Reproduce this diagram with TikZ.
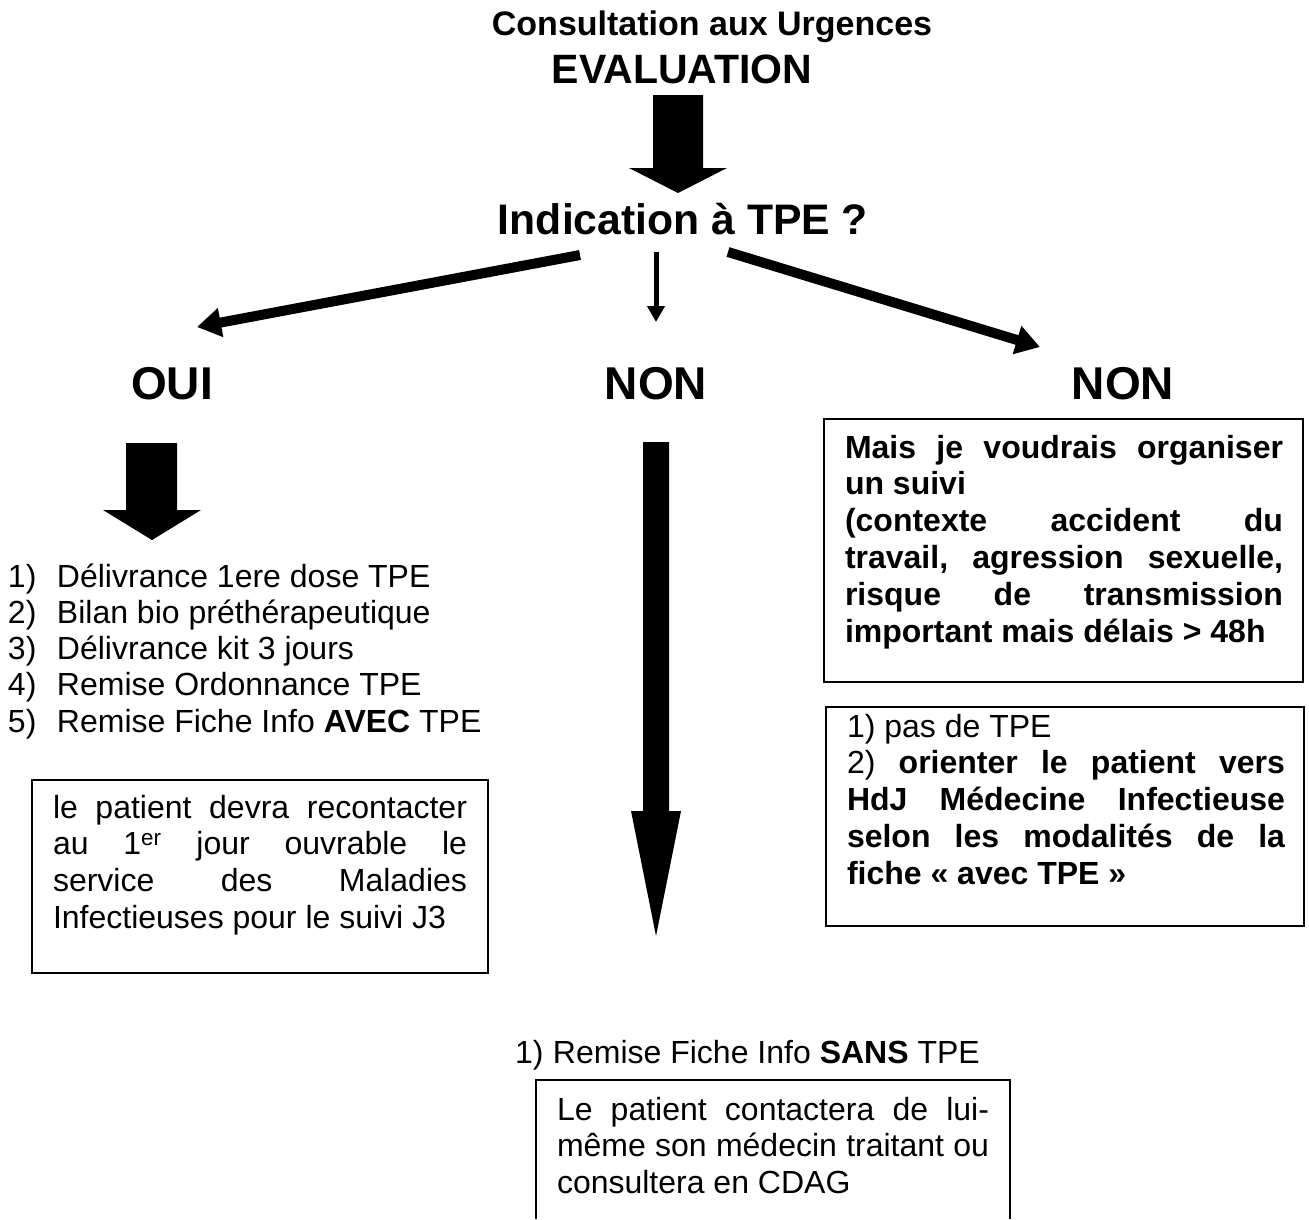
\documentclass[tikz,border=0pt]{standalone}
\usepackage{fontspec}
\setmainfont{Liberation Sans}
\usetikzlibrary{arrows.meta}
\newlength\linew
\newcommand\jrow[1]{\hbox to \linew{#1}}
\newcommand\lrow[1]{\hbox to \linew{#1\hfil}}
\newcommand\numrow[2]{\hbox{\hbox to 49pt{#1\hfil}#2}}
\begin{document}
\begin{tikzpicture}[x=1pt,y=-1pt,
  every node/.style={inner sep=0pt,outer sep=0pt},
  body/.style={font=\fontsize{32}{36.8}\selectfont,anchor=base west},
  big/.style={font=\bfseries\fontsize{46}{52}\selectfont,anchor=base},
  boxline/.style={line width=2pt},
  thinarrow/.style={line width=10pt,-{Triangle[length=24pt,width=28pt]}},
  smallarrow/.style={line width=5pt,-{Triangle[length=16pt,width=17pt]}},
  block/.style={fill=black}]
\useasboundingbox (0,0) rectangle (1309,1219);
% titles
\node[font=\bfseries\fontsize{34}{40}\selectfont,anchor=base] (t1) at (712,35) {Consultation aux Urgences};
\node[font=\bfseries\fontsize{41}{48}\selectfont,anchor=base] (t2) at (682,83) {EVALUATION};
% top block arrow
\fill[block] (653,95) -- (703,95) -- (703,168) -- (727,168) -- (678,193) -- (629,168) -- (653,168) -- cycle;
\node[font=\bfseries\fontsize{42.7}{48}\selectfont,anchor=base] (ind) at (683,234) {Indication à TPE ?};
% branch arrows
\coordinate (la0) at (580,255); \coordinate (la1) at (197,327);
\coordinate (ma0) at (656,252); \coordinate (ma1) at (656,322);
\coordinate (ra0) at (728,252); \coordinate (ra1) at (1040,347);
\draw[thinarrow] (la0) -- (la1);
\draw[smallarrow] (ma0) -- (ma1);
\draw[thinarrow] (ra0) -- (ra1);
% labels
\node[big] (oui) at (172,399) {OUI};
\node[big] (non1) at (656,399) {NON};
\node[big] (non2) at (1123,399) {NON};
% OUI block arrow
\fill[block] (126,443) -- (177,443) -- (177,510) -- (201,510) -- (152,540) -- (103,510) -- (126,510) -- cycle;
% middle long arrow
\fill[block] (643,442) -- (669,442) -- (669,811) -- (681,811) -- (656,936) -- (631,811) -- (643,811) -- cycle;
% left list
\node[body] (list) at (8,587) {\vtop{\baselineskip=36.3pt
  \numrow{1)}{Délivrance 1ere dose TPE}
  \numrow{2)}{Bilan bio préthérapeutique}
  \numrow{3)}{Délivrance kit 3 jours}
  \numrow{4)}{Remise Ordonnance TPE}
  \numrow{5)}{Remise Fiche Info \textbf{AVEC} TPE}}};
% left box
\draw[boxline] (32,780) rectangle (488,973);
\node[body] (lbox) at (53,818) {\setlength\linew{414pt}\vtop{\baselineskip=36.7pt
  \jrow{le\hfill patient\hfill devra\hfill recontacter}
  \jrow{au\hfill 1\textsuperscript{er}\hfill jour\hfill ouvrable\hfill le}
  \jrow{service\hfill des\hfill Maladies}
  \lrow{Infectieuses pour le suivi J3}}};
% right box 1
\draw[boxline] (824,419) rectangle (1303,682);
\node[body,font=\bfseries\fontsize{32}{36.8}\selectfont] (rbox1) at (845,458) {\setlength\linew{438pt}\vtop{\baselineskip=36.8pt
  \jrow{Mais\hfill je\hfill voudrais\hfill organiser}
  \lrow{un suivi}
  \jrow{(contexte\hfill accident\hfill du}
  \jrow{travail,\hfill agression\hfill sexuelle,}
  \jrow{risque\hfill de\hfill transmission}
  \lrow{important mais délais > 48h}}};
% right box 2
\draw[boxline] (826,707) rectangle (1304,926);
\node[body] (rbox2) at (847,737) {\setlength\linew{438pt}\vtop{\baselineskip=36.8pt
  \lrow{1) pas de TPE}
  \jrow{2)\hfill\textbf{orienter}\hfill\textbf{le}\hfill\textbf{patient}\hfill\textbf{vers}}
  \jrow{\bfseries HdJ\hfill Médecine\hfill Infectieuse}
  \jrow{\bfseries selon\hfill les\hfill modalités\hfill de\hfill la}
  \lrow{\bfseries fiche «~avec TPE~»}}};
% bottom
\node[body] (sans) at (515,1063) {\numrow{1)}{\hspace{-11pt}Remise Fiche Info \textbf{SANS} TPE}};
\draw[boxline] (536,1219) -- (536,1080) -- (1010,1080) -- (1010,1219);
\node[body] (bbox) at (557,1120) {\setlength\linew{432pt}\vtop{\baselineskip=36.7pt
  \jrow{Le\hfill patient\hfill contactera\hfill de\hfill lui-}
  \jrow{même\hfill son\hfill médecin\hfill traitant\hfill ou}
  \lrow{consultera en CDAG}}};
\end{tikzpicture}
\end{document}
